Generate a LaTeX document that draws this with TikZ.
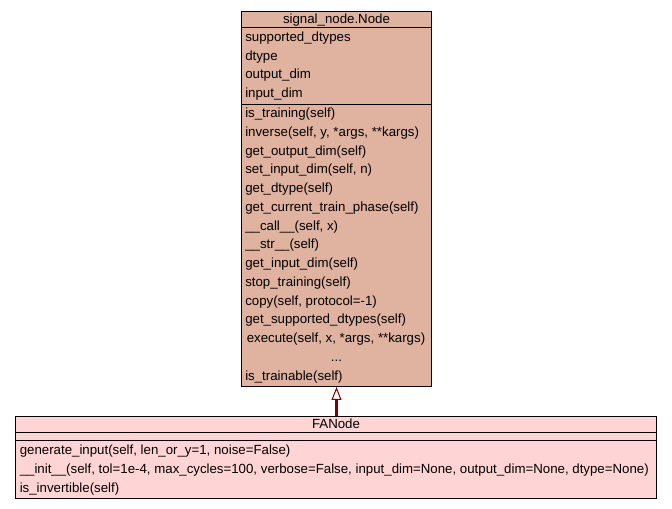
\documentclass[tikz,border=0pt]{standalone}
\usepackage{fontspec}
\setmainfont{Liberation Sans}
\usetikzlibrary{arrows.meta}
\definecolor{nodefill}{RGB}{224,178,160}
\definecolor{fafill}{RGB}{255,212,212}
\definecolor{inherit}{RGB}{128,0,0}

\begin{document}
\begin{tikzpicture}[x=0.75pt,y=-0.75pt,
    classbox/.style={draw,line width=0.75pt,inner sep=0pt},
    member/.style={anchor=west,inner sep=0pt,text height=7.5pt,text depth=2pt,font=\fontsize{9.95}{11}\selectfont},
    title/.style={inner sep=0pt,text height=7.5pt,text depth=2pt,font=\fontsize{9.95}{11}\selectfont}]
    \useasboundingbox (0,0) rectangle (672,509);
    % signal_node.Node
    \node[classbox,fill=nodefill,minimum width=142.5pt,minimum height=281.25pt] (nodecls) at (336.5,199) {};
    \draw[line width=0.75pt] (nodecls.west |- 0,27.5) -- (nodecls.east |- 0,27.5);
    \draw[line width=0.75pt] (nodecls.west |- 0,104.5) -- (nodecls.east |- 0,104.5);
    \node[title] (nodetitle) at (336.5,20) {signal\_node.Node};
    \node[member] (a1) at (245,38) {supported\_dtypes};
    \node[member] (a2) at (245,56.5) {dtype};
    \node[member] (a3) at (245,75) {output\_dim};
    \node[member] (a4) at (245,93.5) {input\_dim};
    \node[member] (m1) at (245,114) {is\_training(self)};
    \node[member] (m2) at (245,132.75) {inverse(self, y, *args, **kargs)};
    \node[member] (m3) at (245,151.5) {get\_output\_dim(self)};
    \node[member] (m4) at (245,170.25) {set\_input\_dim(self, n)};
    \node[member] (m5) at (245,189) {get\_dtype(self)};
    \node[member] (m6) at (245,207.75) {get\_current\_train\_phase(self)};
    \node[member] (m7) at (245,226.5) {\_\_call\_\_(self, x)};
    \node[member] (m8) at (245,245.25) {\_\_str\_\_(self)};
    \node[member] (m9) at (245,264) {get\_input\_dim(self)};
    \node[member] (m10) at (245,282.75) {stop\_training(self)};
    \node[member] (m11) at (245,301.5) {copy(self, protocol=-1)};
    \node[member] (m12) at (245,320.25) {get\_supported\_dtypes(self)};
    \node[member] (m13) at (246.5,339) {execute(self, x, *args, **kargs)};
    \node[title] (m14) at (336.5,357.75) {...};
    \node[member] (m15) at (245,376.5) {is\_trainable(self)};
    % FANode
    \node[classbox,fill=fafill,minimum width=480.75pt,minimum height=61.5pt] (facls) at (336,457.5) {};
    \draw[line width=0.75pt] (facls.west |- 0,432.5) -- (facls.east |- 0,432.5);
    \draw[line width=0.75pt] (facls.west |- 0,440.5) -- (facls.east |- 0,440.5);
    \node[title] (fatitle) at (336,424.5) {FANode};
    \node[member] (f1) at (19.5,451) {generate\_input(self, len\_or\_y=1, noise=False)};
    \node[member] (f2) at (19.5,470) {\_\_init\_\_(self, tol=1e-4, max\_cycles=100, verbose=False, input\_dim=None, output\_dim=None, dtype=None)};
    \node[member] (f3) at (19.5,489) {is\_invertible(self)};
    % inheritance
    \draw[inherit,line width=2.25pt,-{Triangle[fill=white,line width=0.75pt,length=9.75pt,width=7.5pt]}] (nodecls.south |- facls.north) -- (nodecls.south);
\end{tikzpicture}
\end{document}
